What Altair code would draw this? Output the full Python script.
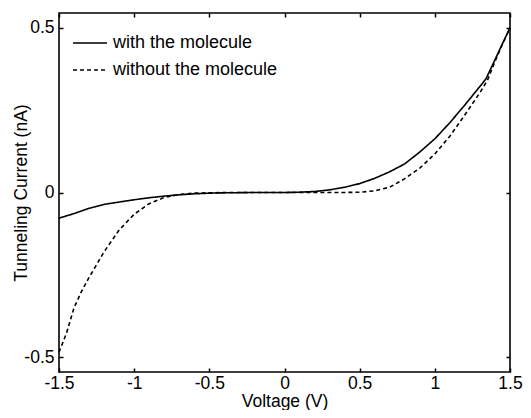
import altair as alt
import pandas as pd

# with the molecule (solid)
v_with = [-1.5, -1.4, -1.3, -1.2, -1.1, -1.0, -0.9, -0.8, -0.7, -0.6, -0.5, -0.4, -0.3, -0.2,
          -0.1, 0.0, 0.1, 0.2, 0.3, 0.4, 0.5, 0.6, 0.7, 0.8, 0.9, 1.0, 1.1, 1.2, 1.3, 1.34,
          1.4, 1.45, 1.5]
i_with = [-0.078, -0.064, -0.048, -0.036, -0.029, -0.022, -0.016, -0.011, -0.007, -0.004,
          -0.002, -0.001, -0.0005, 0.0, 0.0, 0.0, 0.001, 0.003, 0.008, 0.016, 0.027, 0.043,
          0.063, 0.087, 0.123, 0.163, 0.212, 0.266, 0.322, 0.345, 0.403, 0.452, 0.500]

# without the molecule (dashed)
v_without = [-1.5, -1.45, -1.4, -1.35, -1.3, -1.2, -1.1, -1.0, -0.9, -0.8, -0.7, -0.6, -0.5,
             -0.4, -0.2, 0.0, 0.2, 0.4, 0.5, 0.6, 0.7, 0.8, 0.9, 1.0, 1.1, 1.2, 1.3, 1.35,
             1.4, 1.45, 1.5]
i_without = [-0.485, -0.427, -0.35, -0.30, -0.258, -0.180, -0.114, -0.066, -0.034, -0.015,
             -0.006, -0.002, -0.001, 0.0, 0.0, 0.0, 0.0, 0.0, 0.001, 0.005, 0.016, 0.042,
             0.074, 0.117, 0.171, 0.236, 0.303, 0.341, 0.398, 0.450, 0.500]

series = ["with the molecule", "without the molecule"]
x_ticks = [-1.5, -1.0, -0.5, 0.0, 0.5, 1.0, 1.5]
y_ticks = [-0.5, 0.0, 0.5]

rows = []
for v, i in zip(v_with, i_with):
    rows.append({"series": series[0], "V": v, "I": i, "order": len(rows)})
for v, i in zip(v_without, i_without):
    rows.append({"series": series[1], "V": v, "I": i, "order": len(rows)})
df = pd.DataFrame(rows)

FONT = "Liberation Sans"
FS = 17.5
LFS = 18

xscale = alt.Scale(domain=[-1.5, 1.5], nice=False, zero=False)
yscale = alt.Scale(domain=[-0.545, 0.545], nice=False, zero=False)

lines = alt.Chart(df).mark_line(color="black", strokeWidth=1.6).encode(
    x=alt.X("V:Q", scale=xscale,
            axis=alt.Axis(values=x_ticks, tickSize=4, offset=-4, domain=False,
                          labelPadding=2, labelFlush=False, labelOverlap=False,
                          labelExpr="toString(datum.value)",
                          title="Voltage (V)", titlePadding=1, grid=False)),
    y=alt.Y("I:Q", scale=yscale,
            axis=alt.Axis(values=y_ticks, tickSize=4, offset=-4, domain=False,
                          labelPadding=5, labelExpr="toString(datum.value)",
                          title="Tunneling Current (nA)", titlePadding=-7, grid=False)),
    strokeDash=alt.StrokeDash("series:N",
                              scale=alt.Scale(domain=series, range=[[1, 0], [4, 3]]),
                              legend=alt.Legend(title=None, orient="none", legendX=13, legendY=12,
                                                symbolType="stroke", symbolSize=1156,
                                                symbolStrokeWidth=1.6, symbolStrokeColor="black",
                                                labelFont=FONT, labelFontSize=LFS, labelColor="black",
                                                labelLimit=400, labelOffset=5, rowPadding=-6,
                                                padding=0)),
    order="order:Q",
    detail="series:N",
)

frame = alt.Chart(df).mark_line(opacity=0).encode(
    x=alt.X("V:Q", scale=xscale,
            axis=alt.Axis(orient="top", values=x_ticks, tickSize=4, offset=-4, domain=False,
                          labels=False, title=None, grid=False)),
    y=alt.Y("I:Q", scale=yscale,
            axis=alt.Axis(orient="right", values=y_ticks, tickSize=4, offset=-4, domain=False,
                          labels=False, title=None, grid=False)),
    detail="series:N",
)

chart = alt.layer(lines, frame).resolve_axis(x="independent", y="independent").properties(
    width=515, height=402, background="white",
    autosize=alt.AutoSizeParams(type="fit", contains="padding"),
    padding={"left": 4, "top": 4, "right": 0, "bottom": 0},
).configure_view(stroke="black", strokeWidth=1.6).configure_axis(
    labelFont=FONT, labelFontSize=FS, labelColor="black",
    titleFont=FONT, titleFontSize=FS, titleColor="black", titleFontWeight="normal",
    tickColor="black", tickWidth=1.5,
)

chart.save("out.html", embed_options={"renderer": "svg", "actions": False})
